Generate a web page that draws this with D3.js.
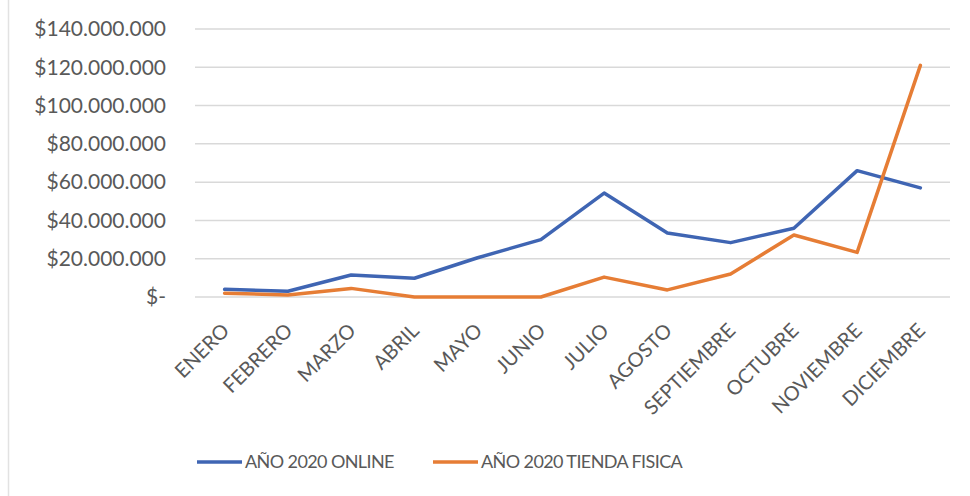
<!DOCTYPE html>
<html>
<head>
<meta charset="utf-8">
<script src="https://cdn.jsdelivr.net/npm/d3@7"></script>
<style>
  html, body { margin: 0; padding: 0; background: #fff; }
  svg { display: block; }
  text { font-family: Lato, "Open Sans", sans-serif; fill: #595959; }
</style>
</head>
<body>
<svg id="chart" width="970" height="496"></svg>
<script>
// Monthly sales 2020, online vs. physical store
const months = ["ENERO", "FEBRERO", "MARZO", "ABRIL", "MAYO", "JUNIO", "JULIO",
  "AGOSTO", "SEPTIEMBRE", "OCTUBRE", "NOVIEMBRE", "DICIEMBRE"];
const online = [4000000, 3000000, 11500000, 9800000, 20500000, 30000000, 54300000,
  33400000, 28400000, 35900000, 66000000, 57000000];
const tienda = [2000000, 1000000, 4500000, 0, 0, 0, 10400000,
  3700000, 12000000, 32400000, 23300000, 121000000];
const yTicks = [0, 20000000, 40000000, 60000000, 80000000, 100000000, 120000000, 140000000];
const seriesNames = ["AÑO 2020 ONLINE", "AÑO 2020 TIENDA FISICA"];
const seriesColors = ["#3F65B3", "#E67D35"];

const svg = d3.select("#chart");
const plot = { left: 193, right: 952, top: 29, bottom: 297 };

const x = d3.scalePoint().domain(months).range([plot.left, plot.right]).padding(0.5);
const y = d3.scaleLinear().domain([0, 140000000]).range([plot.bottom, plot.top]);

// faint frame edge on the left
svg.append("line")
  .attr("x1", 8.5).attr("x2", 8.5).attr("y1", 0).attr("y2", 496)
  .attr("stroke", "#e2e2e2").attr("stroke-width", 1.5);

// gridlines
svg.append("g")
  .selectAll("line")
  .data(yTicks)
  .join("line")
  .attr("x1", plot.left + 2).attr("x2", plot.right - 2)
  .attr("y1", d => y(d)).attr("y2", d => y(d))
  .attr("stroke", "#d9d9d9").attr("stroke-width", 1.5);

// y axis labels
const fmt = v => v === 0 ? "$-" : "$" + d3.format(",")(v).replace(/,/g, ".");
const yAxis = d3.axisLeft(y).tickValues(yTicks).tickFormat(fmt).tickSize(0).tickPadding(0);
const gy = svg.append("g").attr("transform", "translate(166,0)").call(yAxis);
gy.select(".domain").remove();
gy.selectAll("text")
  .attr("font-family", "Lato, sans-serif")
  .attr("font-size", 21)
  .attr("fill", "#595959");

// x axis labels, rotated
const xAxis = d3.axisBottom(x).tickSize(0).tickPadding(0);
const gx = svg.append("g").call(xAxis);
gx.select(".domain").remove();
gx.selectAll(".tick").attr("transform", d => `translate(${x(d) + 1},327)`);
gx.selectAll("text")
  .attr("font-family", "Lato, sans-serif")
  .attr("font-size", 20)
  .attr("fill", "#595959")
  .attr("text-anchor", "end")
  .attr("y", 0).attr("dy", "0.35em")
  .attr("transform", "rotate(-45)");

// lines
const line = d3.line().x((d, i) => x(months[i])).y(d => y(d));
[online, tienda].forEach((vals, k) => {
  svg.append("path")
    .datum(vals)
    .attr("fill", "none")
    .attr("stroke", seriesColors[k])
    .attr("stroke-width", 3.5)
    .attr("stroke-linejoin", "round")
    .attr("stroke-linecap", "round")
    .attr("d", line);
});

// legend
const legendX = [197, 433];
const legend = svg.append("g");
seriesNames.forEach((name, k) => {
  legend.append("line")
    .attr("x1", legendX[k]).attr("x2", legendX[k] + 45)
    .attr("y1", 462).attr("y2", 462)
    .attr("stroke", seriesColors[k]).attr("stroke-width", 3.5);
  legend.append("text")
    .attr("x", legendX[k] + 48).attr("y", 462).attr("dy", "0.35em")
    .attr("font-size", 18)
    .attr("letter-spacing", -0.6)
    .text(name);
});
</script>
</body>
</html>
